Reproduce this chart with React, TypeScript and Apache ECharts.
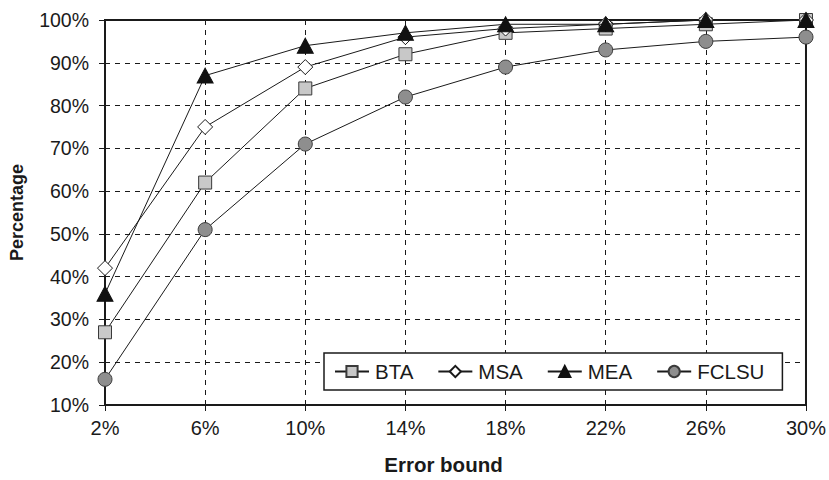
import React, { useEffect, useRef } from "react";
import * as echarts from "echarts";

const categories = ["2%", "6%", "10%", "14%", "18%", "22%", "26%", "30%"];
const bta = [27, 62, 84, 92, 97, 98, 99, 100];
const msa = [42, 75, 89, 96, 98, 99, 100, 100];
const mea = [36, 87, 94, 97, 99, 99, 100, 100];
const fclsu = [16, 51, 71, 82, 89, 93, 95, 96];

const FONT = "Liberation Sans, Arial, sans-serif";

export default function App() {
  const ref = useRef<HTMLDivElement>(null);
  useEffect(() => {
    if (!ref.current) return;
    const chart = echarts.init(ref.current, undefined, { renderer: "svg" });
    const lineStyle = { color: "#1a1a1a", width: 1 };
    chart.setOption({
      animation: false,
      backgroundColor: "#ffffff",
      textStyle: { fontFamily: FONT },
      grid: { left: 105, right: 21, top: 20, bottom: 67, show: true, borderColor: "#1a1a1a", borderWidth: 2 },
      legend: {
        left: 324,
        top: 353,
        orient: "horizontal",
        itemWidth: 34,
        itemHeight: 14,
        itemGap: 24,
        padding: [8, 18, 8, 10],
        borderColor: "#1a1a1a",
        borderWidth: 1.5,
        backgroundColor: "#ffffff",
        textStyle: { fontSize: 20.5, color: "#1a1a1a", fontFamily: FONT, padding: [0, 0, 0, 1] },
        data: ["BTA", "MSA", "MEA", "FCLSU"],
      },
      xAxis: {
        type: "category",
        data: categories,
        boundaryGap: false,
        name: "Error bound",
        nameLocation: "middle",
        nameGap: 49,
        nameTextStyle: { fontSize: 20.5, fontWeight: "bold", color: "#1a1a1a", fontFamily: FONT, padding: [0, 24, 0, 0] },
        axisLine: { lineStyle: { color: "#1a1a1a", width: 2 } },
        axisTick: { show: true, inside: false, length: 6, lineStyle: { color: "#1a1a1a", width: 1 } },
        axisLabel: { fontSize: 20, color: "#1a1a1a", margin: 13, fontFamily: FONT },
        splitLine: { show: true, lineStyle: { color: "#1a1a1a", type: [5, 5], width: 1 } },
      },
      yAxis: {
        type: "value",
        min: 10,
        max: 100,
        interval: 10,
        name: "Percentage",
        nameLocation: "middle",
        nameGap: 79,
        nameTextStyle: { fontSize: 18, fontWeight: "bold", color: "#1a1a1a", fontFamily: FONT },
        axisLine: { show: true, lineStyle: { color: "#1a1a1a", width: 2 } },
        axisTick: { show: true, inside: false, length: 6, lineStyle: { color: "#1a1a1a", width: 1 } },
        axisLabel: { fontSize: 19.5, color: "#1a1a1a", margin: 16, formatter: "{value}%", fontFamily: FONT },
        splitLine: { show: true, lineStyle: { color: "#1a1a1a", type: [5, 5], width: 1 } },
      },
      series: [
        {
          name: "BTA",
          type: "line",
          data: bta,
          symbol: "rect",
          symbolSize: 13,
          lineStyle,
          itemStyle: { color: "#c8c8c8", borderColor: "#3a3a3a", borderWidth: 1 },
          z: 2,
        },
        {
          name: "MSA",
          type: "line",
          data: msa,
          symbol: "diamond",
          symbolSize: 15,
          lineStyle,
          itemStyle: { color: "#ffffff", borderColor: "#1a1a1a", borderWidth: 1 },
          z: 3,
        },
        {
          name: "MEA",
          type: "line",
          data: mea,
          symbol: "triangle",
          symbolSize: [16, 15],
          lineStyle,
          itemStyle: { color: "#111111", borderColor: "#111111", borderWidth: 1 },
          z: 4,
        },
        {
          name: "FCLSU",
          type: "line",
          data: fclsu,
          symbol: "circle",
          symbolSize: 14,
          lineStyle,
          itemStyle: { color: "#8e8e8e", borderColor: "#3a3a3a", borderWidth: 1 },
          z: 1,
        },
      ],
    });
    return () => chart.dispose();
  }, []);
  return <div ref={ref} style={{ width: 829, height: 480, position: "absolute", left: 0, top: 0 }} />;
}
